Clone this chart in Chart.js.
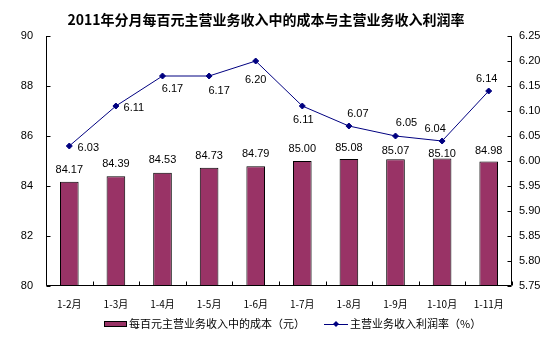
<!DOCTYPE html>
<html><head><meta charset="utf-8">
<script src="https://cdn.jsdelivr.net/npm/chart.js@4"></script>
<style>html,body{margin:0;padding:0;background:#fff}#wrap{width:554px;height:346px;position:relative}</style>
</head><body><div id="wrap"><canvas id="c" width="554" height="346"></canvas></div>
<script>
const titleText = '2011年分月每百元主营业务收入中的成本与主营业务收入利润率';
const categories = ['1-2月','1-3月','1-4月','1-5月','1-6月','1-7月','1-8月','1-9月','1-10月','1-11月'];
const costValues = [84.17,84.39,84.53,84.73,84.79,85.00,85.08,85.07,85.10,84.98];
const profitRates = [6.03,6.11,6.17,6.17,6.20,6.11,6.07,6.05,6.04,6.14];
const costTicks = [80,82,84,86,88,90];
const rateTicks = [5.75,5.80,5.85,5.90,5.95,6.00,6.05,6.10,6.15,6.20,6.25];
const seriesNames = ['每百元主营业务收入中的成本（元）','主营业务收入利润率（%）'];

// label placement (pixels relative to mark)
const barLabelDy = [-12,-12,-13,-12,-12,-12,-11,-8,-5,-11];
const lineLabelOffsets = [[19,2],[18,2],[10,13],[10,15],[0,19],[1,14],[9,-12],[11,-13],[-7,-12],[-2,-12]];

const BAR_COLOR = '#993366';
const LINE_COLOR = '#000080';
const NUM_FONT = '11px "Liberation Sans", Arial, sans-serif';
const CJK = '"Noto Sans CJK SC", "Liberation Sans", sans-serif';

const decorPlugin = {
  id: 'decor',
  afterDraw(chart) {
    const ctx = chart.ctx;
    const ca = chart.chartArea;
    const y = chart.scales.y, y2 = chart.scales.y2, x = chart.scales.x;
    ctx.save();
    // axes
    ctx.strokeStyle = '#000';
    ctx.lineWidth = 1;
    ctx.beginPath();
    const L = Math.round(ca.left) + 0.5, R = Math.round(ca.right) - 0.5, B = Math.round(ca.bottom) - 0.5;
    ctx.moveTo(L, Math.round(ca.top)); ctx.lineTo(L, B);
    ctx.moveTo(R, Math.round(ca.top)); ctx.lineTo(R, B);
    ctx.moveTo(L, B); ctx.lineTo(R, B);
    costTicks.forEach(v => { const py = Math.round(y.getPixelForValue(v)) + 0.5; ctx.moveTo(L, py); ctx.lineTo(L + 4, py); });
    rateTicks.forEach(v => { const py = Math.round(y2.getPixelForValue(v)) + 0.5; ctx.moveTo(R - 4, py); ctx.lineTo(R, py); });
    const n = categories.length;
    for (let i = 0; i <= n; i++) {
      const px = Math.round(ca.left + (ca.right - ca.left) * i / n) + 0.5;
      ctx.moveTo(px, B); ctx.lineTo(px, B - 4);
    }
    ctx.stroke();

    // data labels
    ctx.fillStyle = '#000';
    ctx.font = NUM_FONT;
    ctx.textAlign = 'center';
    ctx.textBaseline = 'middle';
    const barMeta = chart.getDatasetMeta(0);
    barMeta.data.forEach((el, i) => {
      ctx.fillText(costValues[i].toFixed(2), el.x, el.y + barLabelDy[i]);
    });
    const lineMeta = chart.getDatasetMeta(1);
    lineMeta.data.forEach((el, i) => {
      const o = lineLabelOffsets[i];
      ctx.fillText(profitRates[i].toFixed(2), el.x + o[0], el.y + o[1]);
    });

    // title
    ctx.font = 'bold 14px ' + CJK;
    ctx.fillText(titleText, 266, 20);

    // legend
    const ly = 324;
    ctx.fillStyle = BAR_COLOR;
    ctx.fillRect(104, ly - 3, 23, 6);
    ctx.strokeStyle = '#000';
    ctx.strokeRect(104.5, ly - 2.5, 22, 5);
    ctx.fillStyle = '#000';
    ctx.font = '11px ' + CJK;
    ctx.textAlign = 'left';
    ctx.fillText(seriesNames[0], 129, ly);
    ctx.strokeStyle = LINE_COLOR;
    ctx.beginPath(); ctx.moveTo(324, ly + 0.5); ctx.lineTo(348, ly + 0.5); ctx.stroke();
    ctx.fillStyle = LINE_COLOR;
    ctx.beginPath(); ctx.moveTo(336, ly - 3); ctx.lineTo(339, ly); ctx.lineTo(336, ly + 3); ctx.lineTo(333, ly); ctx.closePath(); ctx.fill();
    ctx.fillStyle = '#000';
    ctx.fillText(seriesNames[1], 350, ly);
    ctx.restore();
  }
};

new Chart(document.getElementById('c'), {
  data: {
    labels: categories,
    datasets: [
      { type: 'bar', label: seriesNames[0], data: costValues, yAxisID: 'y',
        backgroundColor: BAR_COLOR, borderColor: '#000', borderWidth: 1, borderSkipped: 'bottom',
        barPercentage: 0.4, categoryPercentage: 1, order: 2 },
      { type: 'line', label: seriesNames[1], data: profitRates, yAxisID: 'y2',
        borderColor: LINE_COLOR, borderWidth: 1, tension: 0, pointStyle: 'rectRot',
        pointRadius: 3, pointBackgroundColor: LINE_COLOR, pointBorderColor: LINE_COLOR, order: 1 }
    ]
  },
  options: {
    responsive: false,
    devicePixelRatio: 1,
    animation: false,
    layout: { padding: { top: 36, left: 0, right: 0, bottom: 0 } },
    plugins: { legend: { display: false }, title: { display: false }, tooltip: { enabled: false } },
    scales: {
      x: {
        offset: true,
        grid: { display: false, drawTicks: false },
        border: { display: false },
        ticks: { color: '#000', font: { family: CJK, size: 10 }, padding: 12, maxRotation: 0, autoSkip: false },
        afterFit: s => { s.height = 60; }
      },
      y: {
        position: 'left', min: 80, max: 90,
        grid: { display: false, drawTicks: false },
        border: { display: false },
        afterBuildTicks: s => { s.ticks = costTicks.map(v => ({ value: v })); },
        ticks: { color: '#000', font: { family: '"Liberation Sans", Arial, sans-serif', size: 11 }, padding: 13,
                 callback: v => String(v) },
        afterFit: s => { s.width = 46; }
      },
      y2: {
        position: 'right', min: 5.75, max: 6.25,
        grid: { display: false, drawTicks: false },
        border: { display: false },
        afterBuildTicks: s => { s.ticks = rateTicks.map(v => ({ value: v })); },
        ticks: { color: '#000', font: { family: '"Liberation Sans", Arial, sans-serif', size: 11 }, padding: 7,
                 callback: v => Number(v).toFixed(2) },
        afterFit: s => { s.width = 42; }
      }
    }
  },
  plugins: [decorPlugin]
});
</script>
</body></html>
